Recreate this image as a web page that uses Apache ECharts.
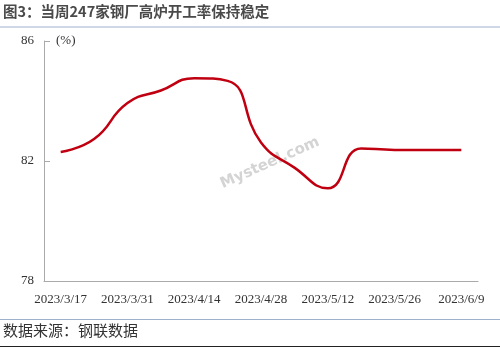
<!DOCTYPE html>
<html><head><meta charset="utf-8">
<script src="https://cdn.jsdelivr.net/npm/echarts@6/dist/echarts.min.js"></script>
<style>html,body{margin:0;padding:0;background:#fff}#c{width:500px;height:347px}</style>
</head><body><div id="c"></div>
<script>
const categories = ["2023/3/17","2023/3/24","2023/3/31","2023/4/7","2023/4/14","2023/4/21","2023/4/28","2023/5/5","2023/5/12","2023/5/19","2023/5/26","2023/6/2","2023/6/9"];
const values = [82.30, 82.73, 83.93, 84.35, 84.76, 84.67, 82.62, 81.78, 81.09, 82.42, 82.37, 82.37, 82.37];
const yTicks = [78, 82, 86];
const titleText = "图3：当周247家钢厂高炉开工率保持稳定";
const sourceText = "数据来源：钢联数据";
const unitText = "(%)";

const chart = echarts.init(document.getElementById('c'), null, {renderer:'canvas'});
chart.setOption({
  animation:false,
  backgroundColor:'#fff',
  grid:{left:44,right:22,top:41,bottom:66},
  xAxis:{type:'category',data:categories,boundaryGap:true,
    axisLine:{lineStyle:{color:'#aaa',width:1}},
    axisTick:{inside:true,length:7,lineStyle:{color:'#aaa'}},
    axisLabel:{interval:1,color:'#333',fontFamily:'Liberation Serif',fontSize:13,margin:12}},
  yAxis:{type:'value',min:yTicks[0],max:yTicks[yTicks.length-1],interval:4,
    axisLine:{show:true,lineStyle:{color:'#aaa'}},
    axisTick:{show:true,inside:true,length:6,lineStyle:{color:'#aaa'}},
    splitLine:{show:false},
    axisLabel:{color:'#333',fontFamily:'Liberation Serif',fontSize:13,margin:10}},
  graphic:[
    {type:'text',left:3,top:4,style:{text:titleText,font:'bold 14.5px "Noto Sans CJK SC"',fill:'#4a4a4a'}},
    {type:'line',shape:{x1:0,y1:27,x2:500,y2:27},style:{stroke:'#9fb0cc',lineWidth:1}},
    {type:'text',left:56,top:34,style:{text:unitText,font:'13px "Liberation Serif"',fill:'#333'}},
    {type:'text',x:270,y:163,rotation:0.42,style:{text:'Mysteel.com',font:'bold 15px "DejaVu Sans"',fill:'#d4d4d4',align:'center',verticalAlign:'middle'},z:-1},
    {type:'line',shape:{x1:0,y1:319.5,x2:500,y2:319.5},style:{stroke:'#9fb0cc',lineWidth:1}},
    {type:'text',left:3,top:323,style:{text:sourceText,font:'15px "Noto Sans CJK SC"',fill:'#333'}},
    {type:'line',shape:{x1:0,y1:346.5,x2:500,y2:346.5},style:{stroke:'#222',lineWidth:1}}
  ],
  series:[{type:'line',data:values,smooth:0.5,symbol:'none',
    lineStyle:{color:'#c00010',width:2.5}}]
});
</script></body></html>
